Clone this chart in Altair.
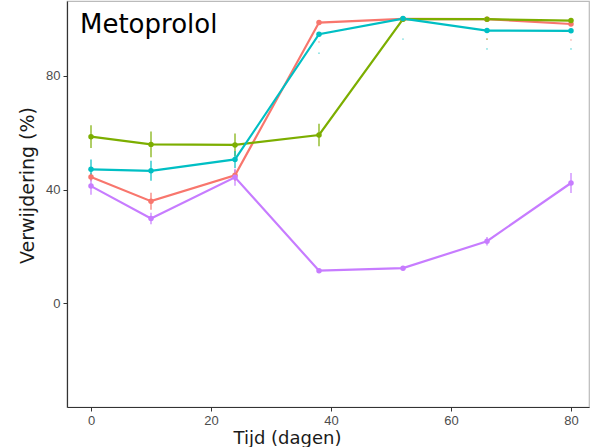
import altair as alt
import pandas as pd

days = [0, 10, 24, 38, 52, 66, 80]
series_names = ["A", "B", "C", "D"]
series_colors = ["#F8766D", "#7CAE00", "#00BFC4", "#C77CFF"]

red_vals = [44.4, 35.9, 45.0, 98.8, 100.1, 100.0, 98.3]
red_err = [1.5, 3.0, 2.0, 0.3, 0.0, 0.3, 0.5]
green_vals = [58.6, 55.9, 55.7, 59.2, 100.0, 100.0, 99.5]
green_err = [4.0, 4.5, 4.0, 4.0, 0.0, 0.3, 0.5]
cyan_vals = [47.1, 46.6, 50.6, 94.7, 100.2, 96.0, 95.9]
cyan_err = [3.5, 3.5, 3.0, 0.5, 0.0, 0.3, 0.3]
purple_vals = [41.2, 29.8, 44.3, 11.4, 12.3, 21.8, 42.3]
purple_err = [3.0, 2.0, 3.0, 0.5, 0.5, 1.5, 3.5]

# faint stray whisker marks visible below the top plateau
stray_series = ["A", "C", "C", "A", "B", "C", "A", "C"]
stray_days = [38, 38, 52, 66, 66, 66, 80, 80]
stray_vals = [92.0, 88.0, 93.0, 93.0, 93.0, 89.5, 92.7, 89.5]

title_text = "Metoprolol"

rows = []
for name, vals, errs in zip(series_names,
                            [red_vals, green_vals, cyan_vals, purple_vals],
                            [red_err, green_err, cyan_err, purple_err]):
    for d, v, e in zip(days, vals, errs):
        rows.append({"series": name, "day": d, "val": v, "lo": v - e, "hi": v + e})
df = pd.DataFrame(rows)
stray_df = pd.DataFrame({"series": stray_series, "day": stray_days, "val": stray_vals})

xscale = alt.Scale(domain=[-4, 83], nice=False, zero=False)
yscale = alt.Scale(domain=[-36.6, 106.4], nice=False, zero=False)
cscale = alt.Scale(domain=series_names, range=series_colors)

xenc = alt.X("day:Q", scale=xscale,
             axis=alt.Axis(values=[0, 20, 40, 60, 80], title="Tijd (dagen)", grid=False,
                           titleX=220, titleY=31, titleBaseline="middle",
                           titleAlign="center", titleAnchor=None))
yenc = alt.Y("val:Q", scale=yscale,
             axis=alt.Axis(values=[0, 40, 80], title="Verwijdering (%)", grid=False,
                           titleX=-40, titleY=184, titleBaseline="middle",
                           titleAlign="center", titleAnchor=None))
color = alt.Color("series:N", scale=cscale, legend=None)

base = alt.Chart(df)
lines = base.mark_line(strokeWidth=2.2).encode(x=xenc, y=yenc, color=color, order="day:Q")
errs = base.mark_rule(strokeWidth=1.5, opacity=0.8).encode(
    x="day:Q", y="lo:Q", y2="hi:Q", color=color)
pts = base.mark_circle(size=30, opacity=1).encode(x="day:Q", y="val:Q", color=color)
stray = alt.Chart(stray_df).mark_circle(size=3, opacity=0.5).encode(
    x="day:Q", y="val:Q", color=color)
title = alt.Chart(pd.DataFrame({"t": [title_text]})).mark_text(
    align="left", baseline="alphabetic", font="DejaVu Sans", fontSize=26, color="black"
).encode(x=alt.value(13), y=alt.value(32), text="t:N")

chart = alt.layer(lines, errs, pts, stray, title).properties(
    width=522, height=406,
    autosize=alt.AutoSizeParams(type="none"),
    padding={"left": 67, "top": 1, "right": 1, "bottom": 40},
).configure_view(
    stroke="#BBBBBB", strokeWidth=1.2
).configure_axis(
    domainColor="#333333", domainWidth=1.2,
    tickColor="#333333", tickSize=4, tickWidth=1,
    labelColor="#4D4D4D", labelFont="Liberation Sans", labelFontSize=13,
    labelPadding=3,
    titleColor="#1A1A1A", titleFont="DejaVu Sans", titleFontWeight="normal",
    titleFontSize=18,
).configure_axisY(titleFontSize=19)

chart.save("out.html", embed_options={"renderer": "svg", "actions": False})
